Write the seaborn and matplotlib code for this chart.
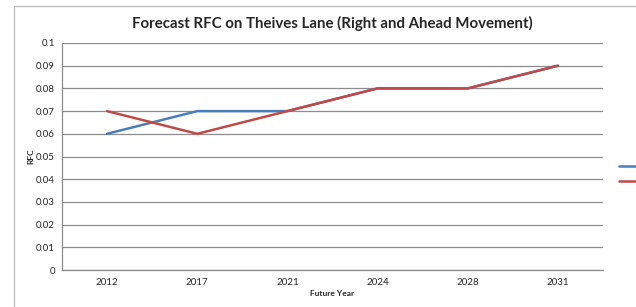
import pandas as pd
import seaborn as sns
from matplotlib import pyplot as plt
from matplotlib.lines import Line2D

# Values
years = ["2012", "2017", "2021", "2024", "2028", "2031"]
right_rfc = [0.06, 0.07, 0.07, 0.08, 0.08, 0.09]
ahead_rfc = [0.07, 0.06, 0.07, 0.08, 0.08, 0.09]
series_names = ["Right", "Ahead"]
y_ticks = [0, 0.01, 0.02, 0.03, 0.04, 0.05, 0.06, 0.07, 0.08, 0.09, 0.1]

blue = "#4A7EBB"
red = "#BE4B48"
grid_col = "#8C8C8C"

sns.set_style("white")
plt.rcParams['font.family'] = ['Lato', 'DejaVu Sans']

df = pd.DataFrame({
    "pos": list(range(len(years))) * 2,
    "rfc": right_rfc + ahead_rfc,
    "series": [series_names[0]] * len(years) + [series_names[1]] * len(years),
})

fig = plt.figure(figsize=(6.36, 3.07), dpi=100)
ax = fig.add_axes([62 / 636, 1 - 270 / 307, (603 - 62) / 636, (270 - 43) / 307])

sns.lineplot(data=df, x="pos", y="rfc", hue="series", palette=[blue, red],
             linewidth=1.8, ax=ax, legend=False, zorder=3)

ax.set_xlim(-0.5, len(years) - 0.5)
ax.set_ylim(0, 0.1)
ax.set_yticks(y_ticks)
ax.set_yticklabels(["0" if v == 0 else ("%g" % v) for v in y_ticks], fontsize=7)
ax.set_xticks(range(len(years)))
ax.set_xticklabels(years, fontsize=7)
ax.set_xticks([i - 0.5 for i in range(len(years) + 1)], minor=True)
ax.tick_params(axis="x", which="major", length=0, pad=6)
ax.tick_params(axis="x", which="minor", length=3, color=grid_col, direction="out")
ax.tick_params(axis="y", length=3, color=grid_col, direction="out", pad=2)

ax.grid(axis="y", color=grid_col, linewidth=0.9)
ax.set_axisbelow(True)
for side in ["top", "right"]:
    ax.spines[side].set_visible(False)
for side in ["left", "bottom"]:
    ax.spines[side].set_color(grid_col)
    ax.spines[side].set_linewidth(0.9)

ax.set_xlabel("Future Year", fontsize=6, fontweight="bold", labelpad=2)
ax.set_ylabel("RFC", fontsize=6, fontweight="bold", labelpad=1)
ax.set_title("Forecast RFC on Theives Lane (Right and Ahead Movement)",
             fontsize=10.8, fontweight="bold", pad=11)

# legend at the right edge; its labels are off the canvas in the original,
# so only the line keys are shown
handles = [Line2D([], [], color=blue, linewidth=1.8),
           Line2D([], [], color=red, linewidth=1.8)]
fig.legend(handles, ["", ""], loc="upper left",
           bbox_to_anchor=(614 / 636, 1 - 158 / 307), frameon=False,
           fontsize=7, handlelength=2.2, borderpad=0, labelspacing=0.6,
           handletextpad=0.5)

# chart area border (left and top edges visible)
fig.add_artist(Line2D([14 / 636, 14 / 636], [0, 1 - 6 / 307], color="#BFBFBF",
                      linewidth=1, transform=fig.transFigure))
fig.add_artist(Line2D([14 / 636, 1], [1 - 6 / 307, 1 - 6 / 307], color="#BFBFBF",
                      linewidth=1, transform=fig.transFigure))

fig.savefig("out.png", dpi=100)
